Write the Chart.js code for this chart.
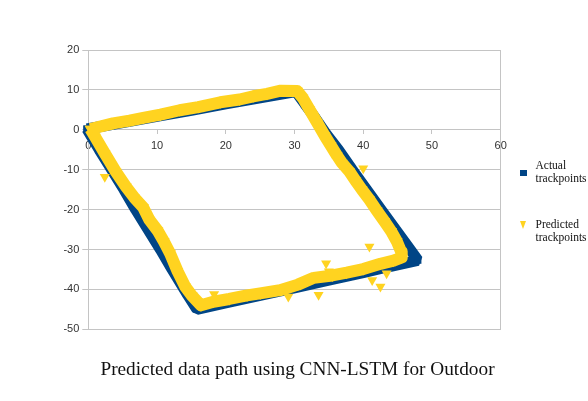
<!DOCTYPE html>
<html>
<head>
<meta charset="utf-8">
<script src="https://cdn.jsdelivr.net/npm/chart.js@4.4.1/dist/chart.umd.min.js"></script>
<style>
  html, body { margin: 0; padding: 0; background: #fff; }
  #wrap { position: relative; width: 588px; height: 401px; overflow: hidden; }
  #chart { position: absolute; left: 0; top: 0; }
  .title {
    position: absolute; left: 0; top: 358.5px; width: 595px; text-align: center;
    font: 19.3px/20px "Liberation Serif", serif; color: #111; white-space: nowrap;
  }
  .legend {
    position: absolute; left: 535.5px;
    font: 11.5px/12.7px "Liberation Serif", serif; color: #111; white-space: nowrap;
  }
  .sq { position: absolute; left: 520px; top: 169.7px; width: 6.7px; height: 6.7px; background: #004586; }
  .tri {
    position: absolute; left: 520px; top: 220.7px; width: 0; height: 0;
    border-left: 3.9px solid transparent; border-right: 3.9px solid transparent;
    border-top: 8.3px solid #ffd320;
  }
</style>
</head>
<body>
<div id="wrap">
  <canvas id="chart" width="588" height="401"></canvas>
  <div class="sq"></div>
  <div class="legend" style="top:159px">Actual<br>trackpoints</div>
  <div class="tri"></div>
  <div class="legend" style="top:217.8px">Predicted<br>trackpoints</div>
  <div class="title">Predicted data path using CNN-LSTM for Outdoor</div>
</div>
<script>
// Axis ticks
const xTicks = [0, 10, 20, 30, 40, 50, 60];
const yTicks = [-50, -40, -30, -20, -10, 0, 10, 20];

// Actual trackpoints (path: top edge, right edge, bottom edge, left edge)
const actualX = [-0.2, 5, 10, 15, 20, 25, 30.2, 31.5, 33.0, 34.6, 36.4, 38.4, 40.5, 42.6, 44.7, 46.4, 47.95,
  44, 40, 35, 30, 25, 20, 15.8, 14.5, 12.2, 10.5, 8.7, 6.9, 5.2, 3.4, 1.6, -0.2];
const actualY = [0.2, 1.8, 3.4, 4.9, 6.5, 8.0, 9.6, 6.5, 3.0, -1.0, -5.0, -10.0, -15.0, -20.0, -25.0, -29.0, -32.7,
  -34.2, -35.8, -37.7, -39.6, -41.5, -43.4, -45.0, -41.5, -35.0, -30.0, -25.0, -20.0, -15.0, -10.0, -5.0, 0.2];

// Predicted trackpoints along the path
const predX = [0.3, 3.6, 6, 8, 10.5, 13.3, 16, 19.2, 22, 24, 26, 28, 30.4,
  31.2, 32.2, 33.3, 34.4, 35.3, 36.2, 36.9, 38.0, 38.9, 39.8, 40.9, 42.0, 43.1, 44.1, 44.9, 45.5, 45.6,
  44.4, 42.5, 40.0, 37.6, 35.5, 32.8, 30.5, 27.9, 25, 23.1, 20.5, 18.2, 16.4,
  15.1, 14.1, 13.0, 11.9, 11.0, 10.1, 8.9, 8.0, 6.7, 5.5, 4.0, 2.4, 1.0, 0.3];
const predY = [0.2, 1.6, 2.3, 3.0, 3.8, 4.9, 5.7, 6.9, 7.6, 8.4, 9.0, 9.8, 9.7,
  8.0, 5.0, 1.8, -1.5, -4.0, -6.5, -8.3, -10.5, -12.8, -15.0, -17.5, -20.3, -23.0, -25.5, -28.0, -30.5, -32.0,
  -32.8, -33.6, -34.9, -35.8, -36.5, -37.1, -38.8, -40.2, -41.0, -41.5, -42.4, -43.1, -44.0,
  -41.6, -39.3, -35.5, -31.0, -28.0, -25.3, -22.6, -19.5, -17.0, -14.3, -10.5, -5.9, -1.8, 0.2];

// Predicted trackpoints that stray off the path
const strayX = [2.4, 40.0, 40.9, 34.6, 33.5, 41.3, 42.5, 43.4, 29.1, 18.3, 35.0];
const strayY = [-11.8, -9.7, -29.3, -33.5, -41.4, -37.7, -39.3, -36.0, -41.8, -41.2, -35.5];

const blue = '#004586';
const yellow = '#ffd320';
const gridColor = '#c4c4c4';
const tickFont = { family: 'Liberation Sans', size: 11 };

const toPoints = (xs, ys) => xs.map((x, i) => ({ x, y: ys[i] }));

new Chart(document.getElementById('chart'), {
  type: 'scatter',
  data: {
    datasets: [
      {
        label: 'Actual trackpoints',
        data: toPoints(actualX, actualY),
        showLine: true,
        borderColor: blue,
        backgroundColor: blue,
        borderWidth: 11,
        borderJoinStyle: 'bevel',
        pointStyle: 'rect',
        pointRadius: 5,
        pointBorderWidth: 0,
        clip: false,
        order: 2
      },
      {
        label: 'Predicted trackpoints',
        data: toPoints(predX, predY),
        showLine: true,
        borderColor: yellow,
        backgroundColor: yellow,
        borderWidth: 12,
        borderJoinStyle: 'round',
        pointStyle: 'triangle',
        rotation: 180,
        pointRadius: 6.5,
        pointBorderWidth: 0,
        clip: false,
        order: 0
      },
      {
        label: 'Predicted trackpoints (off path)',
        data: toPoints(strayX, strayY),
        backgroundColor: yellow,
        pointStyle: 'triangle',
        rotation: 180,
        pointRadius: 5.8,
        pointBorderWidth: 0,
        clip: false,
        order: 1
      }
    ]
  },
  options: {
    responsive: false,
    animation: false,
    layout: { padding: { left: 40, right: 87.3, top: 50, bottom: 71.7 } },
    plugins: {
      legend: { display: false },
      title: { display: false },
      tooltip: { enabled: false }
    },
    scales: {
      x: {
        type: 'linear',
        min: 0,
        max: 60,
        position: { y: 0 },
        afterBuildTicks: axis => { axis.ticks = xTicks.map(value => ({ value })); },
        afterFit: axis => { axis.height = 0; },
        grid: { drawOnChartArea: false, tickLength: 4, color: gridColor },
        border: { color: gridColor },
        ticks: { padding: 6, color: '#333', font: tickFont, maxRotation: 0, autoSkip: false }
      },
      y: {
        type: 'linear',
        min: -50,
        max: 20,
        position: 'left',
        afterBuildTicks: axis => { axis.ticks = yTicks.map(value => ({ value })); },
        afterFit: axis => { axis.width = 48.3; },
        grid: { color: gridColor, tickLength: 6 },
        border: { color: gridColor },
        ticks: { padding: 3, color: '#333', font: tickFont }
      },
      y2: {
        type: 'linear',
        min: -50,
        max: 20,
        position: 'right',
        afterFit: axis => { axis.width = 0; },
        grid: { drawOnChartArea: false, drawTicks: false },
        border: { color: gridColor },
        ticks: { display: false }
      }
    }
  }
});
</script>
</body>
</html>
